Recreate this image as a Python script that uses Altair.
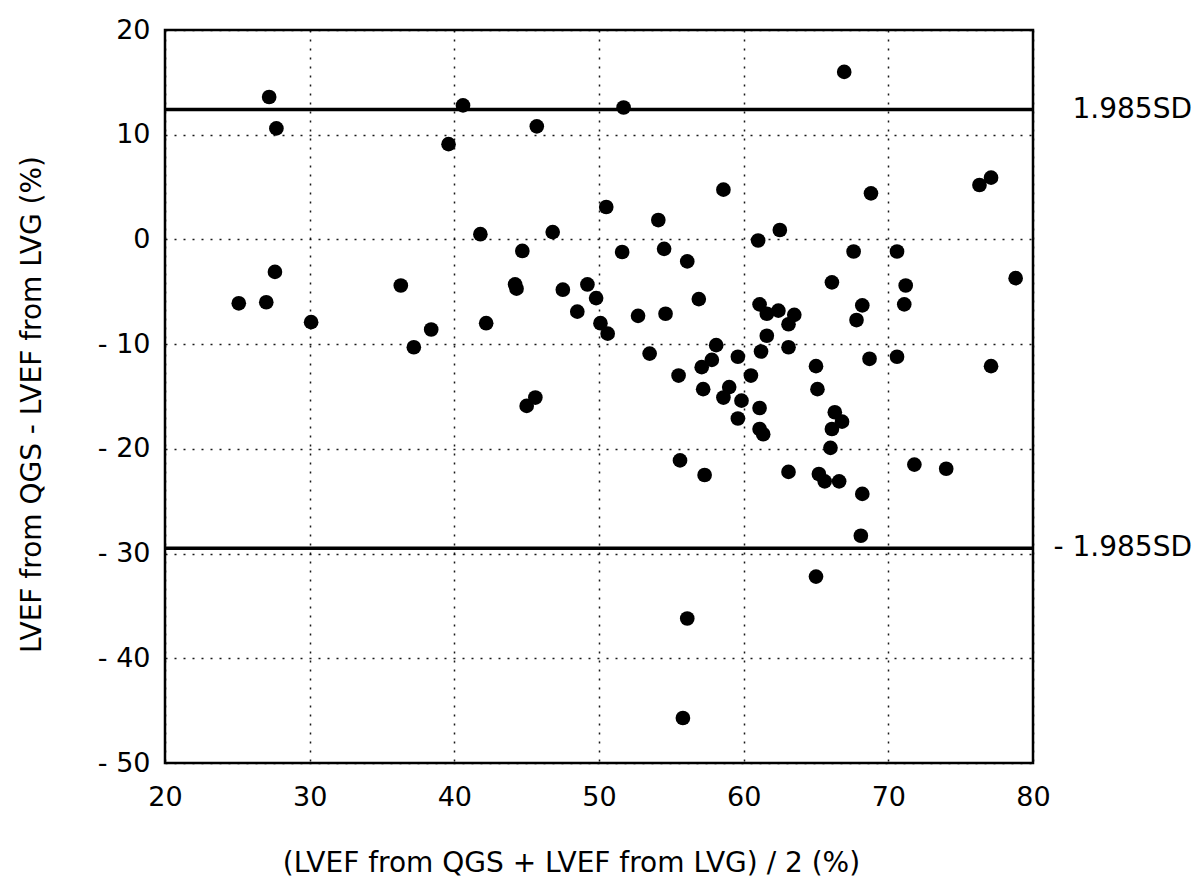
import altair as alt
import pandas as pd

mean_ef = [25.1, 27.0, 27.2, 27.7, 27.6, 30.1, 36.3, 37.2, 38.4, 39.6,
           40.6, 41.8, 42.2, 44.2, 44.3, 44.7, 45.0, 45.6, 45.7, 46.8,
           47.5, 48.5, 49.2, 49.8, 50.1, 50.6, 50.5, 51.7, 51.6, 52.7,
           53.5, 54.1, 54.5, 54.6, 55.5, 55.6, 55.8, 56.1, 56.1, 56.9,
           57.1, 57.2, 57.3, 57.8, 58.1, 58.6, 58.6, 59.0, 59.6, 59.85,
           59.6, 60.5, 61.0, 61.1, 61.6, 62.4, 63.5, 62.5, 63.1, 61.6,
           61.2, 63.1, 61.1, 61.1, 61.35, 63.1, 65.0, 65.1, 65.0, 65.2,
           65.6, 66.6, 66.0, 66.1, 66.3, 66.8, 66.1, 66.95, 67.6, 67.8,
           68.2, 68.8, 68.7, 68.2, 68.1, 70.6, 70.6, 71.2, 71.1, 71.8,
           74.0, 76.3, 77.1, 77.1, 78.8]
diff_ef = [-6.1, -6.0, 13.6, 10.6, -3.1, -7.9, -4.4, -10.3, -8.6, 9.1,
           12.8, 0.5, -8.0, -4.3, -4.7, -1.1, -15.9, -15.1, 10.8, 0.7,
           -4.8, -6.9, -4.3, -5.6, -8.0, -9.0, 3.1, 12.6, -1.2, -7.3,
           -10.9, 1.85, -0.9, -7.1, -13.0, -21.1, -45.7, -36.2, -2.1, -5.7,
           -12.2, -14.3, -22.5, -11.5, -10.1, 4.75, -15.1, -14.1, -11.2, -15.4,
           -17.1, -13.0, -0.1, -6.2, -7.1, -6.8, -7.2, 0.9, -8.1, -9.2,
           -10.7, -10.3, -16.1, -18.1, -18.6, -22.2, -12.1, -14.3, -32.2, -22.4,
           -23.1, -23.1, -19.9, -18.1, -16.5, -17.4, -4.1, 16.0, -1.15, -7.7,
           -6.3, 4.4, -11.4, -24.3, -28.3, -1.15, -11.2, -4.4, -6.2, -21.5,
           -21.9, 5.2, 5.9, -12.1, -3.7]

limit_values = [12.4, -29.5]
limit_labels = ["1.985SD", "- 1.985SD"]

x_ticks = [20, 30, 40, 50, 60, 70, 80]
y_ticks = [20, 10, 0, -10, -20, -30, -40, -50]

W, H = 868, 733
FONT = "DejaVu Sans"

pts = pd.DataFrame({"x": mean_ef, "y": diff_ef})
lims = pd.DataFrame({"y": limit_values, "label": limit_labels})

xscale = alt.Scale(domain=[20, 80], nice=False, zero=False)
yscale = alt.Scale(domain=[-50, 20], nice=False, zero=False)

label_expr = "datum.value < 0 ? '- ' + abs(datum.value) : '' + datum.value"

points = alt.Chart(pts).mark_point(
    filled=True, shape="circle", size=215, color="black", opacity=1
).encode(
    x=alt.X("x:Q", scale=xscale,
            axis=alt.Axis(values=x_ticks, title="(LVEF from QGS + LVEF from LVG) / 2 (%)",
                          titleX=406, titleY=108, titleAlign="center",
                          titleBaseline="alphabetic",
                          labelPadding=21, labelFlush=False)),
    y=alt.Y("y:Q", scale=yscale,
            axis=alt.Axis(values=y_ticks, title="LVEF from QGS - LVEF from LVG (%)",
                          labelExpr=label_expr, labelPadding=15,
                          titleX=-133, titleY=374, titleAlign="center",
                          titleBaseline="middle", titleAngle=270)),
)

rules = alt.Chart(lims).mark_rule(color="black", strokeWidth=3.5).encode(
    y=alt.Y("y:Q", scale=yscale)
)

texts = alt.Chart(lims).mark_text(
    align="right", baseline="middle", font=FONT, fontSize=28, color="black"
).encode(
    y=alt.Y("y:Q", scale=yscale),
    x=alt.value(W + 159),
    text="label:N",
)

chart = alt.layer(rules, points, texts).properties(
    width=W, height=H,
    background="white",
    autosize=alt.AutoSizeParams(type="none"),
    padding={"left": 157, "top": 22, "right": 160, "bottom": 118},
).configure_axis(
    grid=True, gridColor="black", gridDash=[2, 7], gridWidth=1.5, gridOpacity=0.9,
    domain=False, ticks=False,
    labelFont=FONT, labelFontSize=27, labelColor="black",
    titleFont=FONT, titleFontSize=28, titleFontWeight="normal", titleColor="black",
).configure_view(
    stroke="black", strokeWidth=2.5
)

chart.save("out.html", embed_options={"renderer": "svg", "actions": False})
